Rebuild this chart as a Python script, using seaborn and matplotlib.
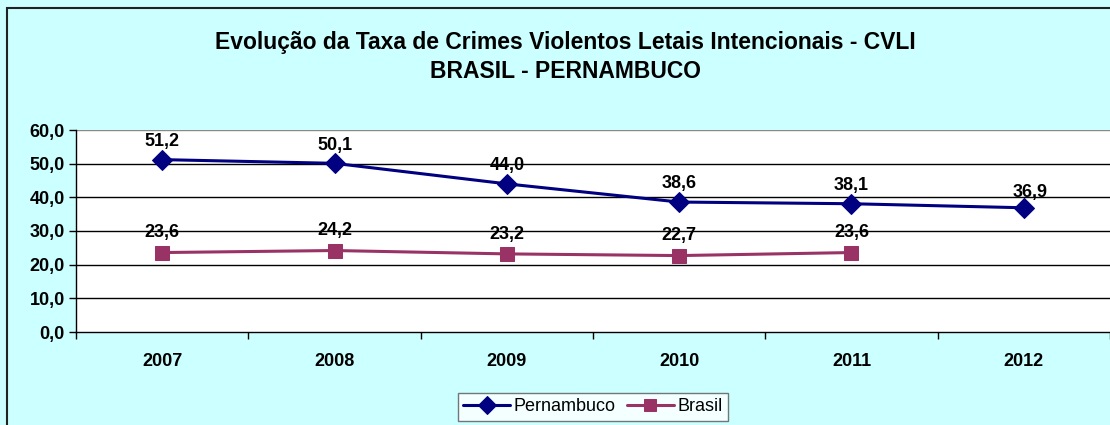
import matplotlib
matplotlib.use("Agg")
import matplotlib.pyplot as plt
import seaborn as sns
import numpy as np
import pandas as pd
from matplotlib.patches import Rectangle

years = ["2007", "2008", "2009", "2010", "2011", "2012"]
pernambuco = [51.2, 50.1, 44.0, 38.6, 38.1, 36.9]
brasil = [23.6, 24.2, 23.2, 22.7, 23.6, np.nan]
yticks = [0, 10, 20, 30, 40, 50, 60]

sns.set_theme(style="white")
plt.rcParams['font.family'] = ['Liberation Sans', 'DejaVu Sans']
plt.rcParams['text.color'] = 'black'
plt.rcParams['xtick.color'] = 'black'
plt.rcParams['ytick.color'] = 'black'

W, H = 1110, 425
fig = plt.figure(figsize=(W / 100, H / 100), dpi=100)
fig.patch.set_facecolor("#CCFFFF")

# outer chart border
fig.patches.append(Rectangle((7 / W, -0.05), 1.1, 1 - 8 / H + 0.05, transform=fig.transFigure,
                             fill=False, edgecolor="#222222", linewidth=1.5, zorder=0))

left, right = 76 / W, 1.0
bottom, top = 1 - 332 / H, 1 - 130 / H
ax = fig.add_axes([left, bottom, right - left, top - bottom])
ax.set_facecolor("white")

df = pd.DataFrame({"pos": np.arange(len(years)), "Pernambuco": pernambuco, "Brasil": brasil})

sns.lineplot(data=df, x="pos", y="Pernambuco", ax=ax, color="#000080", marker="D",
             markersize=10.5, markeredgecolor="#000080", linewidth=2.2, label="Pernambuco", zorder=5)
sns.lineplot(data=df.dropna(), x="pos", y="Brasil", ax=ax, color="#993366", marker="s",
             markersize=10, markeredgecolor="#993366", linewidth=2.2, label="Brasil", zorder=5)

ax.set_xlim(-0.5, len(years) - 0.5)
ax.set_ylim(0, 60)
ax.set_yticks(yticks)
ax.set_yticklabels([f"{v:.1f}".replace(".", ",") for v in yticks], fontsize=13, fontweight="bold")
ax.set_xticks(np.arange(len(years)))
ax.set_xticklabels(years, fontsize=13, fontweight="bold")
ax.tick_params(axis="x", length=0, pad=15)
ax.set_xticks(np.arange(len(years) + 1) - 0.5, minor=True)
ax.tick_params(axis="x", which="minor", length=5, width=1, color="black", direction="out", bottom=True)
ax.tick_params(axis="y", length=5, width=1, color="black", direction="out", left=True, pad=3)
ax.set_xlabel("")
ax.set_ylabel("")

for v in yticks[1:-1]:
    ax.axhline(v, color="black", linewidth=1, zorder=1)
ax.axhline(60, color="#888888", linewidth=1, zorder=1)

for s in ["top", "right"]:
    ax.spines[s].set_visible(False)
ax.spines["left"].set_color("black")
ax.spines["bottom"].set_color("black")
ax.spines["left"].set_linewidth(1)
ax.spines["bottom"].set_linewidth(1)

def fmt(v):
    return f"{v:.1f}".replace(".", ",")

for i, v in enumerate(pernambuco):
    last = i == len(pernambuco) - 1
    dx = 0.035 if last else 0
    dy = 4.5 if last else 5.4
    ax.text(i + dx, v + dy, fmt(v), ha="center", va="center", fontsize=13, fontweight="bold", zorder=6)
for i, v in enumerate(brasil):
    if np.isnan(v):
        continue
    ax.text(i, v + 5.9, fmt(v), ha="center", va="center", fontsize=13, fontweight="bold", zorder=6)

fig.text(565 / W, 1 - 42 / H, "Evolução da Taxa de Crimes Violentos Letais Intencionais - CVLI",
         ha="center", va="center", fontsize=16.5, fontweight="bold")
fig.text(565 / W, 1 - 72 / H, "BRASIL - PERNAMBUCO",
         ha="center", va="center", fontsize=16.5, fontweight="bold")

leg = ax.legend(loc="upper left", bbox_to_anchor=(458 / W, 1 - 393 / H), bbox_transform=fig.transFigure,
                ncol=2, frameon=True, fontsize=13, handlelength=2.6, handletextpad=0.2,
                columnspacing=0.6, borderpad=0.3, borderaxespad=0, fancybox=False, markerscale=0.85)
leg.get_frame().set_edgecolor("#555555")
leg.get_frame().set_facecolor("white")
leg.get_frame().set_linewidth(1)

fig.savefig("out.png", dpi=100, facecolor=fig.get_facecolor())
